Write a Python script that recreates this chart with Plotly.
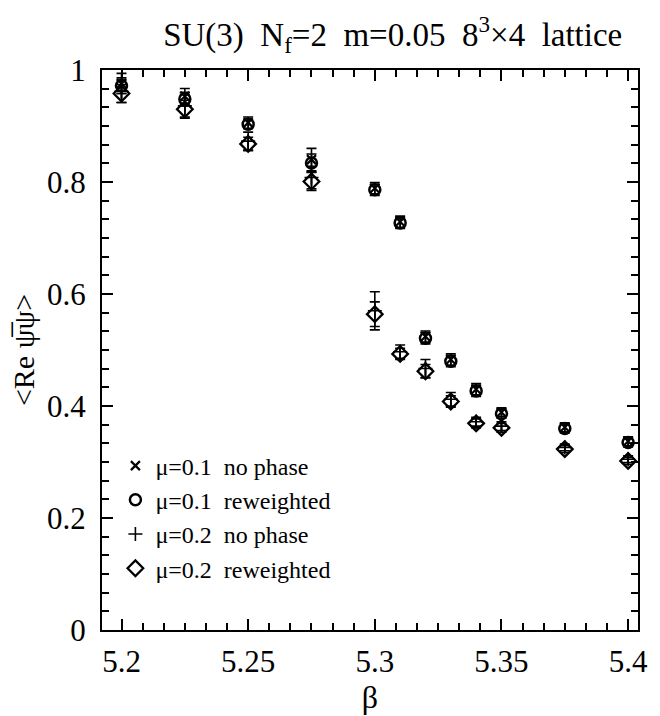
import plotly.graph_objects as go

beta = [5.2, 5.225, 5.25, 5.275, 5.3, 5.31, 5.32, 5.33, 5.34, 5.35, 5.375, 5.4]

mu01_nophase = [0.976, 0.953, 0.906, 0.840, 0.789, 0.729, 0.524, 0.483, 0.430, 0.389, 0.362, 0.337]
mu01_nophase_err = [0.018, 0.014, 0.010, 0.020, 0.010, 0.010, 0.010, 0.010, 0.010, 0.008, 0.008, 0.008]
mu01_reweighted = [0.972, 0.948, 0.903, 0.834, 0.786, 0.727, 0.521, 0.480, 0.427, 0.386, 0.360, 0.335]
mu01_reweighted_err = [0.014, 0.012, 0.008, 0.016, 0.010, 0.010, 0.010, 0.010, 0.010, 0.008, 0.008, 0.008]
mu02_nophase = [0.962, 0.936, 0.873, 0.808, 0.570, 0.497, 0.467, 0.412, 0.372, 0.364, 0.326, 0.305]
mu02_nophase_err = [0.020, 0.020, 0.016, 0.020, 0.034, 0.012, 0.016, 0.012, 0.008, 0.008, 0.006, 0.006]
mu02_reweighted = [0.958, 0.930, 0.868, 0.801, 0.564, 0.493, 0.462, 0.408, 0.369, 0.361, 0.323, 0.302]
mu02_reweighted_err = [0.016, 0.016, 0.012, 0.016, 0.022, 0.010, 0.012, 0.010, 0.008, 0.008, 0.006, 0.006]

legend_names = ["\u03bc=0.1  no phase", "\u03bc=0.1  reweighted",
                "\u03bc=0.2  no phase", "\u03bc=0.2  reweighted"]

x_tick_labels = ["5.2", "5.25", "5.3", "5.35", "5.4"]
y_tick_labels = ["0", "0.2", "0.4", "0.6", "0.8", "1"]

FONT = "Liberation Serif, Times New Roman, serif"
BLACK = "#000000"

W, H = 660, 716
ML, MR, MT, MB = 102, 12, 70, 86

series = [
    (mu01_nophase, mu01_nophase_err, "x-thin-open", 9, 2.2),
    (mu01_reweighted, mu01_reweighted_err, "circle-open", 11, 2.5),
    (mu02_nophase, mu02_nophase_err, "cross-thin-open", 10, 1.6),
    (mu02_reweighted, mu02_reweighted_err, "diamond-open", 12, 2.3),
]

fig = go.Figure()
for name, (vals, errs, sym, size, lw) in zip(legend_names, series):
    fig.add_trace(go.Scatter(
        x=beta, y=vals, name=name, mode="markers",
        marker=dict(symbol=sym, size=size, color=BLACK,
                    line=dict(color=BLACK, width=lw)),
        error_y=dict(type="data", array=errs, visible=True,
                     color=BLACK, thickness=1.6, width=5),
    ))

XR = [5.1923, 5.4039]
YR = [0, 1]
x_major = [float(v) for v in x_tick_labels]
y_major = [float(v) for v in y_tick_labels]

n_sub = 6
x_minor = [round(x_major[0] + i * (x_major[1] - x_major[0]) / n_sub, 6)
           for i in range(0, 4 * n_sub + 1) if i % n_sub != 0]
y_minor = [round(y_major[0] + i * (y_major[1] - y_major[0]) / n_sub, 6)
           for i in range(0, 5 * n_sub + 1) if i % n_sub != 0]

fig.update_layout(
    xaxis=dict(
        range=XR, tickmode="array", tickvals=x_major, ticktext=x_tick_labels,
        showline=True, linecolor=BLACK, linewidth=2, mirror="ticks",
        ticks="inside", ticklen=11, tickwidth=2, tickcolor=BLACK,
        showgrid=False, zeroline=False,
        tickfont=dict(family=FONT, size=31, color=BLACK),
        ticklabelstandoff=3,
        title=dict(text="\u03b2", font=dict(family=FONT, size=32, color=BLACK), standoff=0),
    ),
    yaxis=dict(
        range=YR, tickmode="array", tickvals=y_major, ticktext=y_tick_labels,
        showline=True, linecolor=BLACK, linewidth=2, mirror="ticks",
        ticks="inside", ticklen=11, tickwidth=2, tickcolor=BLACK,
        showgrid=False, zeroline=False,
        tickfont=dict(family=FONT, size=31, color=BLACK),
        ticklabelstandoff=8,
        title=dict(text="&lt;Re \u03c8\u0305\u03c8&gt;", font=dict(family=FONT, size=30, color=BLACK), standoff=4),
    ),
    # overlaid axes carrying only the minor (unlabelled) ticks on all four sides
    xaxis2=dict(
        range=XR, overlaying="x", anchor="y2", side="bottom",
        tickmode="array", tickvals=x_minor, showticklabels=False,
        ticks="inside", ticklen=7, tickwidth=1.8, tickcolor=BLACK,
        mirror="ticks", showline=False, showgrid=False, zeroline=False,
    ),
    yaxis2=dict(
        range=YR, overlaying="y", anchor="x2", side="left",
        tickmode="array", tickvals=y_minor, showticklabels=False,
        ticks="inside", ticklen=7, tickwidth=1.8, tickcolor=BLACK,
        mirror="ticks", showline=False, showgrid=False, zeroline=False,
    ),
)

# invisible helper trace so the minor-tick axes are drawn
fig.add_trace(go.Scatter(x=[beta[0]], y=[mu01_nophase[0]], xaxis="x2", yaxis="y2",
                         mode="markers", marker=dict(opacity=0, size=1),
                         showlegend=False, hoverinfo="skip"))

fig.update_layout(
    width=W, height=H,
    margin=dict(l=ML, r=MR, t=MT, b=MB),
    paper_bgcolor="white", plot_bgcolor="white",
    font=dict(family=FONT, color=BLACK),
    title=dict(
        text="SU(3)  N<sub>f</sub>=2  m=0.05  8<sup>3</sup>\u00d74  lattice",
        font=dict(family=FONT, size=33, color=BLACK),
        x=0.595, xanchor="center", y=0.952, yanchor="middle",
    ),
    legend=dict(
        x=0.025, y=0.333, xanchor="left", yanchor="top",
        font=dict(family=FONT, size=24, color=BLACK),
        bgcolor="rgba(0,0,0,0)", borderwidth=0,
        itemsizing="trace", tracegroupgap=0,
    ),
    showlegend=True,
)

fig.write_html("out.html",
               config={"displayModeBar": False},
               post_script="document.body.style.margin='0';document.body.style.padding='0';")
